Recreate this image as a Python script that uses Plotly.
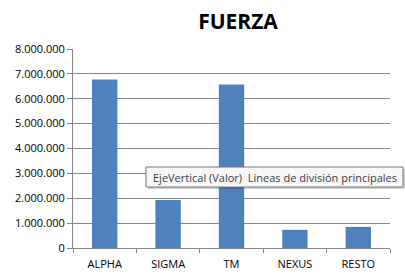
import plotly.graph_objects as go

categories = ["ALPHA", "SIGMA", "TM", "NEXUS", "RESTO"]
values = [6770000, 1930000, 6570000, 730000, 850000]
y_ticks = [0, 1000000, 2000000, 3000000, 4000000, 5000000, 6000000, 7000000, 8000000]
title_text = "FUERZA"
tooltip_text = "EjeVertical (Valor)  Líneas de división principales"

W, H = 405, 276
L, R, T, B = 73, 15, 49, 28
pw, ph = W - L - R, H - T - B

def px_x(p):
    return (p - L) / pw

def px_y(p):
    return (H - B - p) / ph

fig = go.Figure(go.Bar(x=categories, y=values, marker=dict(color="#4F81BD", line=dict(width=0)),
                       width=0.4))

fig.update_layout(
    width=W, height=H,
    margin=dict(l=L, r=R, t=T, b=B, autoexpand=False),
    paper_bgcolor="white", plot_bgcolor="white",
    separators=",.",
    showlegend=False,
    font=dict(family="Open Sans, sans-serif", size=11, color="#000"),
    title=dict(text="<b>" + title_text + "</b>", x=238 / W, xanchor="center",
               y=1 - 22 / H, yanchor="middle",
               font=dict(family="Open Sans, sans-serif", size=21, color="#000")),
)
fig.update_yaxes(range=[0, 8000000], tickvals=y_ticks, tickformat=",d",
                 showgrid=True, gridcolor="#868686", gridwidth=1,
                 showline=True, linecolor="#868686", linewidth=1,
                 ticks="outside", ticklen=5, tickcolor="#868686",
                 zeroline=False, fixedrange=True, automargin=False,
                 tickfont=dict(family="Open Sans, sans-serif", size=11, color="#000"))
fig.update_xaxes(showline=True, linecolor="#868686", linewidth=1,
                 ticks="outside", ticklen=4, tickcolor="#868686",
                 tickson="boundaries", fixedrange=True, ticklabelstandoff=6,
                 automargin=False,
                 tickfont=dict(family="Open Sans, sans-serif", size=11, color="#000"))

# tooltip shadow and box
fig.add_shape(type="rect", xref="paper", yref="paper",
              x0=px_x(148), x1=px_x(406), y0=px_y(189), y1=px_y(169),
              fillcolor="rgba(0,0,0,0.18)", line=dict(width=0), layer="above")
fig.add_shape(type="rect", xref="paper", yref="paper",
              x0=px_x(146), x1=px_x(403), y0=px_y(187), y1=px_y(167),
              fillcolor="#F7F7FA", line=dict(color="#767676", width=1), layer="above")
fig.add_annotation(xref="paper", yref="paper", x=px_x(151), y=px_y(177),
                   xanchor="left", yanchor="middle", showarrow=False,
                   text=tooltip_text,
                   font=dict(family="Open Sans, sans-serif", size=11, color="#3C3C3C"))

fig.write_html("out.html")
